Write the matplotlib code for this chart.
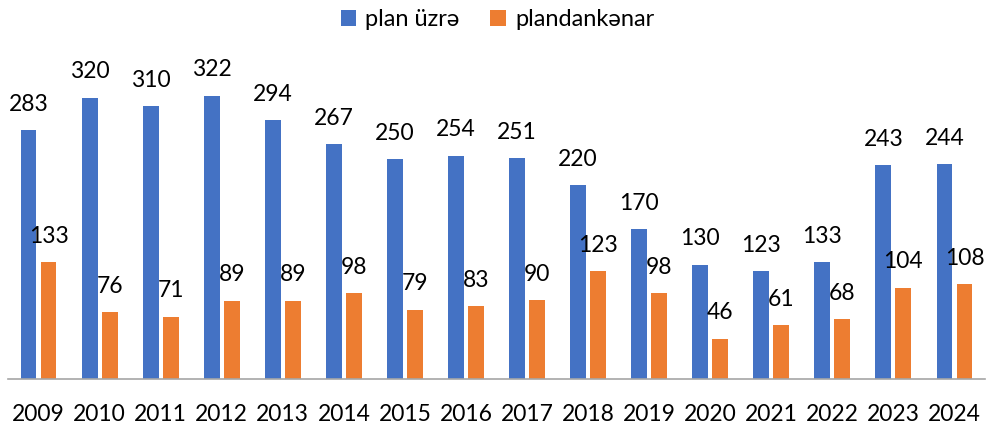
import matplotlib
matplotlib.use("Agg")
import matplotlib.pyplot as plt
import numpy as np

plt.rcParams['font.family'] = ['Lato', 'DejaVu Sans']

years = ['2009', '2010', '2011', '2012', '2013', '2014', '2015', '2016',
         '2017', '2018', '2019', '2020', '2021', '2022', '2023', '2024']
plan = [283, 320, 310, 322, 294, 267, 250, 254, 251, 220, 170, 130, 123, 133, 243, 244]
unplanned = [133, 76, 71, 89, 89, 98, 79, 83, 90, 123, 98, 46, 61, 68, 104, 108]

BLUE = '#4472C4'
ORANGE = '#ED7D31'

fig = plt.figure(figsize=(9.95, 4.3), dpi=100)
ax = fig.add_axes([8 / 995, 51 / 430, 977 / 995, 329 / 430])

x = np.arange(len(years))
w = 0.26
off = 0.164
b1 = ax.bar(x - off, plan, w, color=BLUE, label='plan üzrə')
b2 = ax.bar(x + off, unplanned, w, color=ORANGE, label='plandankənar')

# value labels above each bar
for bars in (b1, b2):
    ax.bar_label(bars, padding=11, fontsize=16.5, color='#000000')

ax.set_xlim(-0.5, len(years) - 0.5)
ax.set_ylim(0, 374)
ax.set_xticks(x)
ax.set_xticklabels(years, fontsize=16.5)
ax.tick_params(axis='x', length=0, pad=18)
ax.set_yticks([])
for s in ('top', 'right', 'left'):
    ax.spines[s].set_visible(False)
ax.spines['bottom'].set_color('#A6A6A6')
ax.spines['bottom'].set_linewidth(1.2)

fig.legend(loc='upper center', bbox_to_anchor=(0.5, 1.0), ncol=2, frameon=False,
           fontsize=17, handlelength=0.65, handleheight=0.65, columnspacing=1.3,
           handletextpad=0.4, borderaxespad=0.0)

fig.savefig('out.png', dpi=100)
